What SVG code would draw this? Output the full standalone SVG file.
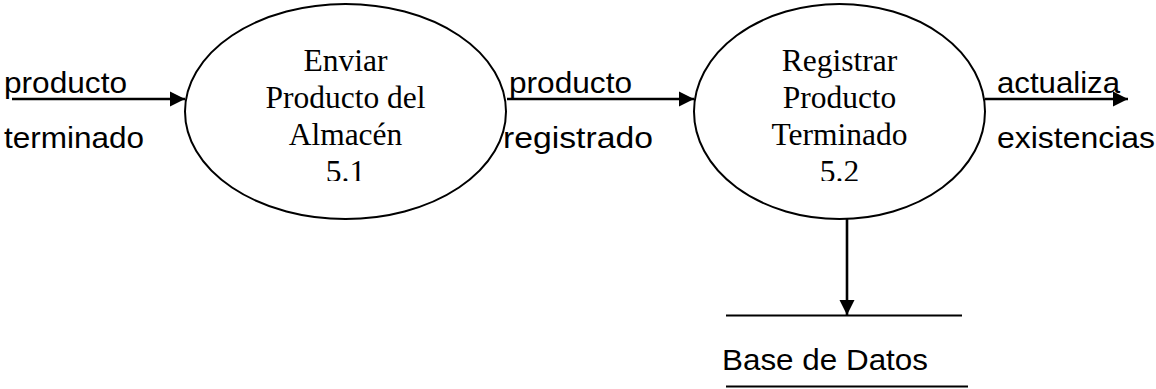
<svg xmlns="http://www.w3.org/2000/svg" width="1156" height="389" viewBox="0 0 1156 389">
<style>
.proc{fill:#fff;stroke:#000;stroke-width:2}
.flow{fill:none;stroke:#000;stroke-width:2.6}
.store{fill:none;stroke:#000;stroke-width:2}
.lbl{font-family:"Liberation Sans",Arial,sans-serif;font-size:29px;fill:#000}
.ptxt{font-family:"Liberation Serif","Times New Roman",serif;font-size:31.5px;fill:#000;text-anchor:middle}
</style>
<defs>
<marker id="ah" markerUnits="userSpaceOnUse" markerWidth="16" markerHeight="16" refX="15" refY="8" orient="auto">
<path d="M0,0.5 L15,8 L0,15.5 Z" fill="#000"/>
</marker>
<clipPath id="c1"><rect x="0" y="0" width="1156" height="181"/></clipPath>
</defs>
<g id="connectors">
<line class="flow" x1="12" y1="99" x2="185" y2="99" marker-end="url(#ah)"/>
<line class="flow" x1="507" y1="99" x2="694" y2="99" marker-end="url(#ah)"/>
<line class="flow" x1="985" y1="99" x2="1128" y2="99" marker-end="url(#ah)"/>
<line class="flow" x1="847" y1="219" x2="847" y2="315" marker-end="url(#ah)"/>
</g>
<g id="p51">
<ellipse class="proc" cx="345.5" cy="111.5" rx="160.5" ry="107.5"/>
<g clip-path="url(#c1)">
<text class="ptxt" x="345.5" y="71">Enviar</text>
<text class="ptxt" x="345.5" y="108">Producto del</text>
<text class="ptxt" x="345.5" y="145">Almacén</text>
<text class="ptxt" x="345.5" y="182">5.1</text>
</g>
</g>
<g id="p52">
<ellipse class="proc" cx="839.5" cy="111.5" rx="145.5" ry="107.5"/>
<g clip-path="url(#c1)">
<text class="ptxt" x="839.5" y="71">Registrar</text>
<text class="ptxt" x="839.5" y="108">Producto</text>
<text class="ptxt" x="839.5" y="145">Terminado</text>
<text class="ptxt" x="839.5" y="182">5.2</text>
</g>
</g>
<g id="store">
<line class="store" x1="726" y1="315.5" x2="962" y2="315.5"/>
<line class="store" x1="726" y1="386.5" x2="968" y2="386.5"/>
<text class="lbl" x="722" y="370" textLength="206" lengthAdjust="spacingAndGlyphs">Base de Datos</text>
</g>
<g id="labels">
<text class="lbl" x="4" y="93" textLength="123" lengthAdjust="spacingAndGlyphs">producto</text>
<text class="lbl" x="4" y="148" textLength="140" lengthAdjust="spacingAndGlyphs">terminado</text>
<text class="lbl" x="509" y="93" textLength="123" lengthAdjust="spacingAndGlyphs">producto</text>
<text class="lbl" x="503" y="148" textLength="150" lengthAdjust="spacingAndGlyphs">registrado</text>
<text class="lbl" x="997" y="93" textLength="123" lengthAdjust="spacingAndGlyphs">actualiza</text>
<text class="lbl" x="997" y="148" textLength="158" lengthAdjust="spacingAndGlyphs">existencias</text>
</g>
</svg>
